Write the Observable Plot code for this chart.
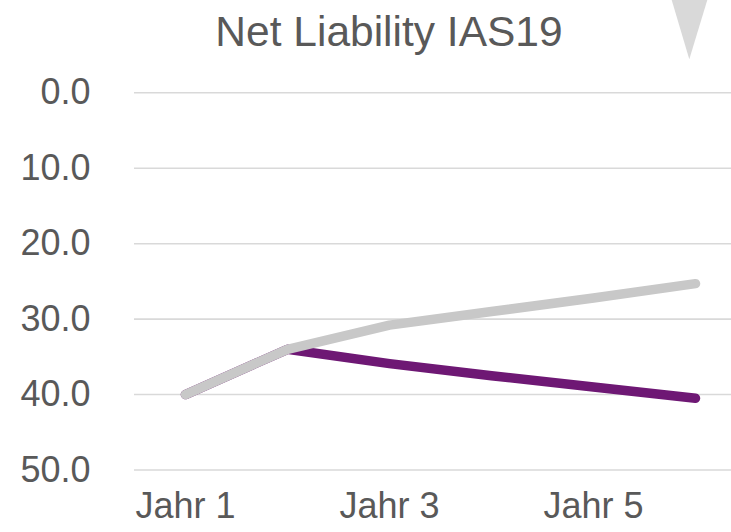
<!DOCTYPE html>
<html>
<head>
<meta charset="utf-8">
<script src="https://cdn.jsdelivr.net/npm/d3@7"></script>
<script src="https://cdn.jsdelivr.net/npm/@observablehq/plot@0.6"></script>
<style>
  html, body { margin: 0; padding: 0; background: #fff; overflow: hidden; width: 731px; height: 532px; }
  #wrap { position: relative; width: 731px; height: 532px; overflow: hidden; }
  #title { font-family: "Liberation Sans", Arial, sans-serif; font-size: 42.5px; color: #595959;
           height: 60px; line-height: 60px; padding-top: 2px; box-sizing: border-box;
           text-align: center; padding-left: 47px; width: 731px; white-space: nowrap; }
  #marker { position: absolute; left: 0; top: 0; }
  svg.plot { overflow: hidden; }
</style>
</head>
<body>
<div id="wrap">
  <div id="title">Net Liability IAS19</div>
  <div id="chart"></div>
  <svg id="marker" width="731" height="70"><polygon points="671.7,0 707.3,0 689.3,59.3" fill="#d9d9d9"/></svg>
</div>
<script>
const categories = ["Jahr 1", "Jahr 2", "Jahr 3", "Jahr 4", "Jahr 5", "Jahr 6"];
const shownTicks = ["Jahr 1", "Jahr 3", "Jahr 5"];
const yTicks = [0, 10, 20, 30, 40, 50];
const seriesPurple = [40.0, 34.0, 35.9, 37.5, 39.0, 40.5];
const seriesGrey = [40.0, 34.0, 30.8, 29.0, 27.2, 25.3];

const purpleData = categories.map((c, i) => ({cat: c, v: seriesPurple[i]}));
const greyData = categories.map((c, i) => ({cat: c, v: seriesGrey[i]}));

const chart = Plot.plot({
  className: "plot",
  width: 731,
  height: 472,
  marginLeft: 134,
  marginRight: -15,
  marginTop: 32.3,
  marginBottom: 62.5,
  style: { fontFamily: "'Liberation Sans', Arial, sans-serif", fontSize: "36px", color: "#595959", background: "#fff" },
  x: { type: "point", domain: categories, padding: 0.5 },
  y: { domain: [0, 50], reverse: true },
  marks: [
    Plot.gridY(yTicks, { stroke: "#d9d9d9", strokeOpacity: 1, strokeWidth: 1.6 }),
    Plot.axisY(yTicks, { tickSize: 0, tickPadding: 44, tickFormat: d3.format(".1f"), fill: "#595959", label: null }),
    Plot.axisX(shownTicks, { tickSize: 0, tickPadding: 22, fill: "#595959", label: null }),
    Plot.line(purpleData, { x: "cat", y: "v", stroke: "#6e1874", strokeWidth: 9.5, strokeLinecap: "round", strokeLinejoin: "round" }),
    Plot.line(greyData, { x: "cat", y: "v", stroke: "#c8c8c8", strokeWidth: 9.5, strokeLinecap: "round", strokeLinejoin: "round" })
  ]
});
document.getElementById("chart").appendChild(chart);
</script>
</body>
</html>
